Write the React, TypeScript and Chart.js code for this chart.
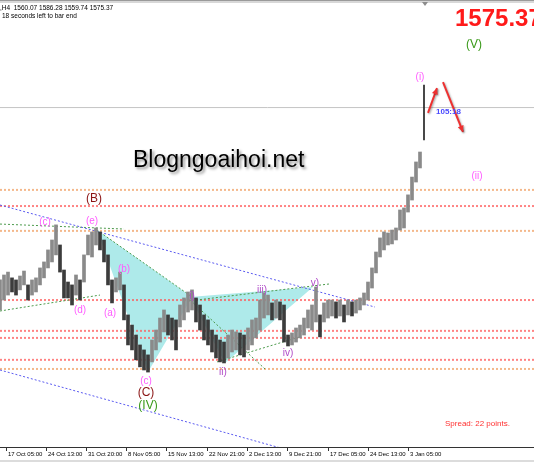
import React, { useEffect, useRef } from 'react';
import { Chart, registerables } from 'chart.js';
Chart.register(...registerables);

// ---- data (prices, H4 bars aggregated) ----
const barHigh = [
  1492.1, 1494.5, 1495.9, 1493.1, 1492.1, 1494.0, 1496.4, 1489.7, 1492.1, 1493.1,
  1497.9, 1500.8, 1506.6, 1511.4, 1518.7, 1509.0, 1496.9, 1491.1, 1489.7, 1494.5,
  1492.1, 1504.2, 1513.8, 1515.3, 1517.2, 1515.3, 1511.4, 1504.2, 1492.1, 1493.1,
  1495.9, 1489.7, 1475.2, 1470.3, 1465.5, 1460.7, 1458.3, 1455.9, 1463.1, 1467.9,
  1473.7, 1477.6, 1475.2, 1473.7, 1472.8, 1480.0, 1483.4, 1486.3, 1487.3, 1483.4,
  1480.0, 1475.2, 1472.8, 1467.9, 1465.5, 1463.1, 1462.1, 1465.5, 1467.9, 1467.0,
  1466.5, 1465.5, 1468.9, 1472.8, 1473.7, 1482.4, 1485.8, 1484.8, 1481.0, 1482.4,
  1481.5, 1480.0, 1465.5, 1466.5, 1468.9, 1470.3, 1473.7, 1477.6, 1480.0, 1488.7,
  1475.2, 1481.0, 1482.4, 1482.4, 1481.5, 1482.4, 1480.0, 1482.4, 1481.5, 1482.4,
  1483.4, 1485.8, 1491.1, 1497.9, 1505.6, 1512.4, 1515.3, 1514.8, 1516.2, 1517.2,
  1525.9, 1526.9, 1533.2, 1541.8, 1549.1, 1553.9,
];
const barLow = [
  1477.6, 1482.4, 1484.8, 1486.3, 1484.8, 1487.3, 1489.7, 1482.4, 1484.8, 1486.3,
  1489.7, 1493.1, 1497.9, 1500.8, 1504.2, 1495.9, 1483.4, 1483.4, 1480.0, 1484.8,
  1482.4, 1491.1, 1504.2, 1503.2, 1509.0, 1506.6, 1500.8, 1489.7, 1481.0, 1486.3,
  1487.3, 1472.8, 1460.7, 1458.3, 1453.5, 1450.1, 1448.6, 1447.6, 1452.5, 1458.3,
  1462.1, 1467.0, 1465.5, 1463.1, 1458.3, 1469.4, 1472.8, 1476.6, 1477.6, 1471.8,
  1467.9, 1463.1, 1460.7, 1457.3, 1454.4, 1452.5, 1452.0, 1454.4, 1457.3, 1458.3,
  1455.9, 1454.9, 1458.3, 1460.7, 1464.1, 1467.9, 1473.7, 1475.2, 1472.8, 1473.7,
  1472.8, 1462.1, 1460.2, 1460.7, 1462.1, 1464.1, 1465.5, 1468.9, 1467.9, 1471.8,
  1464.6, 1471.8, 1473.7, 1474.7, 1473.7, 1474.7, 1471.8, 1475.2, 1474.7, 1476.1,
  1477.6, 1480.0, 1482.4, 1488.2, 1495.5, 1503.2, 1506.6, 1509.0, 1509.5, 1511.4,
  1516.2, 1517.2, 1524.9, 1530.7, 1539.4, 1546.2,
];
// last (current) H4 bar: open, high, low, close
const lastOHLC = [1560.07, 1586.28, 1559.74, 1575.37];
const bidPrice = 1575.37;

const timeLabels = ['17 Oct 05:00', '24 Oct 13:00', '31 Oct 20:00', '8 Nov 05:00', '15 Nov 13:00', '22 Nov 21:00', '2 Dec 13:00', '9 Dec 21:00', '17 Dec 05:00', '24 Dec 13:00', '3 Jan 05:00'];
const timeTickAt = [1.5, 11.5, 21.5, 31.5, 41.5, 51.75, 61.75, 71.75, 82, 92, 102];

const levelPrices = [1535.6, 1527.8, 1515.8, 1482.4, 1467.5, 1464.1, 1453.5, 1449.1];
const levelKinds = ['orange', 'red', 'orange', 'red', 'red', 'red', 'red', 'orange'];

// trend lines: [x1, y1, x2, y2] in bar index / price
const blueLines = [
  [0, 1528.3, 93.75, 1479.0],
  [0, 1448.6, 70, 1411.0],
];
const greenLines = [
  [0, 1519.1, 31, 1516.7],
  [0, 1477.1, 25, 1484.8],
  [24.25, 1516.2, 48, 1483.9],
  [47.5, 1482.4, 66.25, 1449.1],
  [54.25, 1452.5, 75, 1464.6],
  [47, 1481.9, 82.5, 1490.2],
];
const tri1X = [24.25, 37, 48, 24.25];
const tri1Y = [1516.2, 1447.6, 1483.9, 1516.2];
const tri2X = [47.5, 56.25, 78.25, 47.5];
const tri2Y = [1483.9, 1452.0, 1488.7, 1483.9];

const waveText = ['(c)', '(e)', '(B)', '(d)', '(a)', '(b)', 'i)', '(c)', '(C)', '(IV)', 'ii)', 'iii)', 'iv)', 'v)', '(i)', '(ii)', '(V)'];
const waveX = [11.25, 23, 23.5, 20, 27.5, 31, 48, 36.5, 36.5, 37, 55.75, 65.5, 72, 78.75, 105, 119.25, 118.5];
const waveY = [1520.1, 1520.6, 1531.2, 1477.6, 1476.1, 1497.4, 1484.4, 1443.3, 1437.5, 1431.4, 1447.6, 1487.3, 1456.8, 1490.6, 1590.2, 1542.3, 1605.6];
const waveKind = ['p', 'p', 'B', 'p', 'p', 'p', 'v', 'p', 'B', 'G', 'v', 'v', 'v', 'v', 'p', 'p', 'G'];

const arrows = [
  [107, 1572.8, 109.25, 1584.8],
  [110.75, 1587.7, 115.75, 1563.6],
];

const FONT = '"Liberation Sans", Arial, sans-serif';

function seg(l: number[]) {
  return [{ x: l[0], y: l[1] }, { x: l[2], y: l[3] }];
}

const overlay = {
  id: 'overlay',
  afterDatasetsDraw(chart: any) {
    const ctx = chart.ctx;
    const xs = chart.scales.x;
    const ys = chart.scales.y;
    ctx.save();
    ctx.textAlign = 'center';
    ctx.textBaseline = 'middle';
    waveText.forEach((t, i) => {
      const k = waveKind[i];
      let color = '#ff5cff';
      let size = 10;
      if (k === 'v') color = '#b04cc8';
      if (k === 'B') { color = '#8b1414'; size = 12; }
      if (k === 'G') { color = '#3a9a1a'; size = 12; }
      ctx.font = `${size}px ${FONT}`;
      ctx.fillStyle = color;
      ctx.fillText(t, xs.getPixelForValue(waveX[i]), ys.getPixelForValue(waveY[i]));
    });
    arrows.forEach((a) => {
      const x1 = xs.getPixelForValue(a[0]);
      const y1 = ys.getPixelForValue(a[1]);
      const x2 = xs.getPixelForValue(a[2]);
      const y2 = ys.getPixelForValue(a[3]);
      ctx.save();
      ctx.shadowColor = 'rgba(0,0,0,0.35)';
      ctx.shadowBlur = 2;
      ctx.shadowOffsetX = 1;
      ctx.shadowOffsetY = 1;
      ctx.strokeStyle = '#ee3030';
      ctx.fillStyle = '#ee3030';
      ctx.lineWidth = 2;
      ctx.beginPath();
      ctx.moveTo(x1, y1);
      ctx.lineTo(x2, y2);
      ctx.stroke();
      const ang = Math.atan2(y2 - y1, x2 - x1);
      ctx.beginPath();
      ctx.moveTo(x2, y2);
      ctx.lineTo(x2 - 7 * Math.cos(ang - 0.45), y2 - 7 * Math.sin(ang - 0.45));
      ctx.lineTo(x2 - 7 * Math.cos(ang + 0.45), y2 - 7 * Math.sin(ang + 0.45));
      ctx.closePath();
      ctx.fill();
      ctx.restore();
    });
    ctx.restore();
  },
  afterDraw(chart: any) {
    const ctx = chart.ctx;
    const xs = chart.scales.x;
    const W = chart.width;
    const bottom = chart.chartArea.bottom;
    ctx.save();
    ctx.fillStyle = '#9a9a9a';
    ctx.fillRect(0, 0, W, 1);
    ctx.fillStyle = '#d8d8d8';
    ctx.fillRect(0, 1, W, 2);
    ctx.fillStyle = '#8c8c8c';
    ctx.beginPath();
    ctx.moveTo(422, 2);
    ctx.lineTo(428, 2);
    ctx.lineTo(425, 6);
    ctx.closePath();
    ctx.fill();
    ctx.fillStyle = '#000';
    ctx.textBaseline = 'middle';
    ctx.textAlign = 'left';
    ctx.font = `6.5px ${FONT}`;
    ctx.fillText(`,H4  ${lastOHLC.map((v) => v.toFixed(2)).join(' ')}`, 0, 8);
    ctx.fillText('18 seconds left to bar end', 2, 16);
    ctx.fillStyle = '#ff1a1a';
    ctx.font = `bold 24px ${FONT}`;
    ctx.textBaseline = 'alphabetic';
    ctx.fillText(bidPrice.toFixed(2), 455, 26);
    ctx.save();
    ctx.font = `23px ${FONT}`;
    ctx.shadowColor = 'rgba(0,0,0,0.45)';
    ctx.shadowBlur = 3;
    ctx.shadowOffsetX = 2;
    ctx.shadowOffsetY = 2;
    ctx.fillStyle = '#000';
    ctx.fillText('Blogngoaihoi.net', 133, 167);
    ctx.restore();
    ctx.fillStyle = '#4a4aff';
    ctx.font = `bold 8px ${FONT}`;
    ctx.textBaseline = 'middle';
    ctx.fillText('105:18', 436, 112);
    ctx.fillStyle = '#ff3030';
    ctx.font = `8px ${FONT}`;
    ctx.fillText('Spread: 22 points.', 445, 424);
    ctx.strokeStyle = '#333';
    ctx.lineWidth = 1;
    ctx.beginPath();
    ctx.moveTo(0, bottom + 0.5);
    ctx.lineTo(W, bottom + 0.5);
    ctx.stroke();
    ctx.fillStyle = '#000';
    ctx.font = `6px ${FONT}`;
    timeTickAt.forEach((t, i) => {
      const px = Math.round(xs.getPixelForValue(t)) + 0.5;
      ctx.beginPath();
      ctx.moveTo(px, bottom);
      ctx.lineTo(px, bottom + 4);
      ctx.stroke();
      ctx.fillText(timeLabels[i], px + 1.5, bottom + 7);
    });
    ctx.fillStyle = '#dcdcdc';
    ctx.fillRect(0, chart.height - 2, W, 2);
    ctx.restore();
  },
};

export default function App() {
  const ref = useRef<HTMLCanvasElement | null>(null);
  useEffect(() => {
    document.body.style.margin = '0';
    if (!ref.current) return;
    const barColors = barHigh.map((h, i) => {
      const mid = (h + barLow[i]) / 2;
      const prev = i > 0 ? (barHigh[i - 1] + barLow[i - 1]) / 2 : mid;
      return mid >= prev ? '#8a8a8a' : '#3c3c3c';
    });
    const datasets: any[] = [];
    datasets.push({
      type: 'bar',
      data: barHigh.map((h, i) => ({ x: i, y: [barLow[i], h] })),
      backgroundColor: barColors,
      barThickness: 3,
      order: 0,
    });
    datasets.push({
      type: 'bar',
      data: [{ x: barHigh.length, y: [lastOHLC[2], lastOHLC[1]] }],
      backgroundColor: '#222222',
      barThickness: 1,
      grouped: false,
      order: 0,
    });
    const tri = (xs: number[], ys: number[]) => ({
      type: 'line',
      data: xs.map((x, i) => ({ x, y: ys[i] })),
      borderWidth: 0,
      borderColor: 'rgba(0,0,0,0)',
      backgroundColor: '#aeeaea',
      fill: 'shape',
      pointRadius: 0,
      tension: 0,
      order: 20,
    });
    datasets.push(tri(tri1X, tri1Y));
    datasets.push(tri(tri2X, tri2Y));
    levelPrices.forEach((p, i) => {
      datasets.push({
        type: 'line',
        data: [{ x: 0, y: p }, { x: 140, y: p }],
        borderColor: levelKinds[i] === 'red' ? 'rgba(255,90,90,0.75)' : 'rgba(240,160,100,0.75)',
        borderWidth: 2,
        borderDash: [2, 2],
        pointRadius: 0,
        fill: false,
        order: 15,
      });
    });
    datasets.push({
      type: 'line',
      data: [{ x: 0, y: bidPrice }, { x: 140, y: bidPrice }],
      borderColor: '#c4c4c4',
      borderWidth: 1,
      pointRadius: 0,
      fill: false,
      order: 15,
    });
    blueLines.forEach((l) => {
      datasets.push({
        type: 'line',
        data: seg(l),
        borderColor: '#5a5af0',
        borderWidth: 1,
        borderDash: [2, 2],
        pointRadius: 0,
        fill: false,
        order: 5,
      });
    });
    greenLines.forEach((l) => {
      datasets.push({
        type: 'line',
        data: seg(l),
        borderColor: '#4c9a4c',
        borderWidth: 1,
        borderDash: [2, 2],
        pointRadius: 0,
        fill: false,
        order: 5,
      });
    });
    const chart = new Chart(ref.current, {
      type: 'bar',
      data: { datasets },
      options: {
        animation: false,
        responsive: false,
        devicePixelRatio: 1,
        datasets: { bar: { grouped: false } },
        layout: { padding: { top: 4, bottom: 15, left: 0, right: 0 } },
        plugins: { legend: { display: false }, tooltip: { enabled: false } },
        scales: {
          x: { type: 'linear', min: 0, max: 133.5, display: false, offset: false },
          y: { type: 'linear', min: 1411.4, max: 1625.4, display: false },
        },
      } as any,
      plugins: [overlay],
    } as any);
    return () => chart.destroy();
  }, []);
  return <canvas ref={ref} width={534} height={462} style={{ display: 'block' }} />;
}
